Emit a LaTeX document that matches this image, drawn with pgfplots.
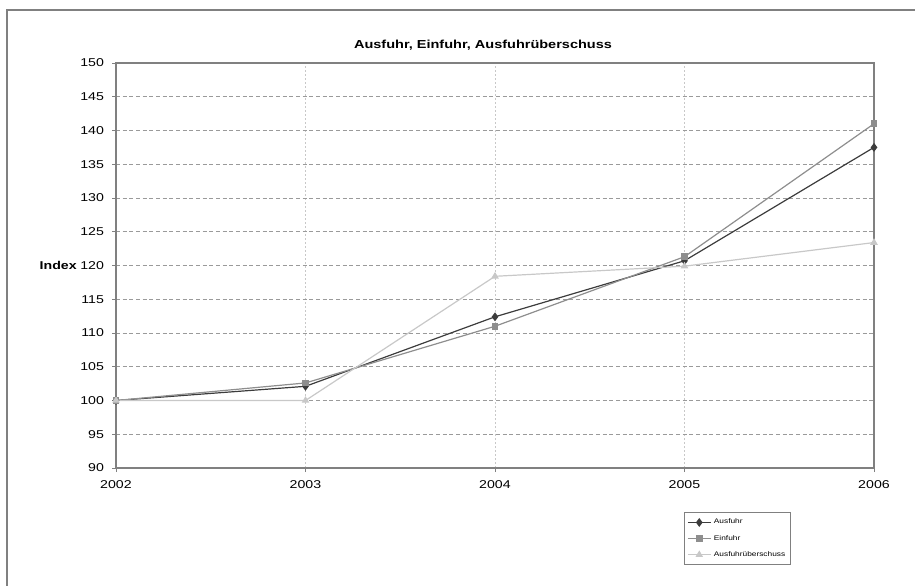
\documentclass[border=0pt]{standalone}
\usepackage{fontspec}
\setmainfont[FakeStretch=1.25]{Liberation Sans}
\usepackage{pgfplots}
\pgfplotsset{compat=1.18}
\definecolor{cA}{HTML}{3C3C3C}
\definecolor{cE}{HTML}{8E8E8E}
\definecolor{cU}{HTML}{C8C8C8}
\definecolor{gridc}{HTML}{9A9A9A}
\definecolor{vgridc}{HTML}{C8C8C8}
\definecolor{axc}{HTML}{808080}
\begin{document}
\begin{tikzpicture}
\path[use as bounding box] (0,0) rectangle (686.25pt,439.5pt);
\draw[axc, line width=0.8pt] (5.25pt,-2pt) -- (5.25pt,432pt) -- (690pt,432pt);
\begin{axis}[
  at={(87pt,88.5pt)}, anchor=south west, scale only axis,
  width=568.5pt, height=303.75pt,
  xmin=2002, xmax=2006, ymin=90, ymax=150,
  xtick={2002,2003,2004,2005,2006},
  xticklabels={2002,2003,2004,2005,2006},
  ytick={90,95,...,150},
  /pgf/number format/assume math mode=true,
  ticklabel style={font=\fontsize{8.5}{10}\selectfont, text=black},
  yticklabel style={xshift=-2.5pt},
  xticklabel style={yshift=-3pt},
  tick pos=left, tick align=outside, major tick length=3pt,
  tick style={axc, line width=0.6pt},
  axis line style={axc, line width=0.8pt},
  xmajorgrids, ymajorgrids,
  x grid style={vgridc, line width=0.6pt, dash pattern=on 1.5pt off 1.5pt},
  y grid style={gridc, line width=0.6pt, dash pattern=on 3pt off 2pt},
  legend cell align=left,
  legend style={at={(0.8905,-0.1086)}, anchor=north east, draw=axc,
    line width=0.6pt, font=\fontsize{5}{6}\selectfont,
    row sep=3pt, inner xsep=2pt, inner ysep=3pt},
]
\addplot[cA, line width=0.9pt, mark=diamond*, mark size=2.6pt, mark options={solid, fill=cA}]
  coordinates {(2002,100) (2003,102.1) (2004,112.4) (2005,120.7) (2006,137.5)};
\addlegendentry{Ausfuhr}
\addplot[cE, line width=0.9pt, mark=square*, mark size=2.1pt, mark options={solid, fill=cE}]
  coordinates {(2002,100) (2003,102.6) (2004,111.0) (2005,121.3) (2006,141.0)};
\addlegendentry{Einfuhr}
\addplot[cU, line width=0.9pt, mark=triangle*, mark size=2.4pt, mark options={solid, fill=cU}]
  coordinates {(2002,100) (2003,100) (2004,118.4) (2005,119.9) (2006,123.4)};
\addlegendentry{Ausfuhrüberschuss}
\end{axis}
\node[font=\bfseries\fontsize{8.7}{10}\selectfont] at (362.25pt,405.75pt) {Ausfuhr, Einfuhr, Ausfuhrüberschuss};
\node[font=\bfseries\fontsize{8.5}{10}\selectfont, anchor=east, inner sep=0pt] at (57.75pt,240.75pt) {Index};
\end{tikzpicture}
\end{document}
